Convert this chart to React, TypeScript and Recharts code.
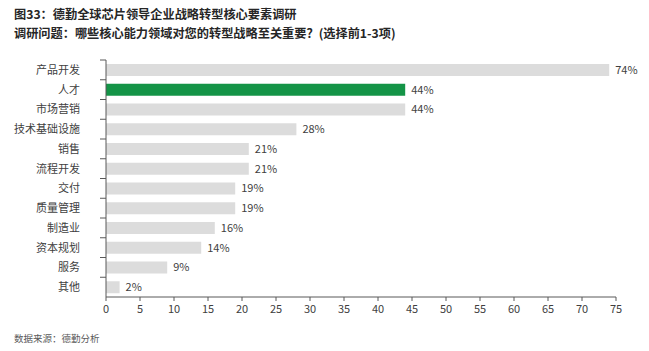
import { BarChart, Bar, XAxis, YAxis, Cell, LabelList } from 'recharts';

const categories = ['产品开发', '人才', '市场营销', '技术基础设施', '销售', '流程开发', '交付', '质量管理', '制造业', '资本规划', '服务', '其他'];
const values = [74, 44, 44, 28, 21, 21, 19, 19, 16, 14, 9, 2];
const highlight = '人才';
const xTicks = [0, 5, 10, 15, 20, 25, 30, 35, 40, 45, 50, 55, 60, 65, 70, 75];

const FONT = '"Noto Sans CJK SC", "Noto Sans", sans-serif';
const TOP = 60;
const PLOT_H = 237;
const BAND = PLOT_H / categories.length;

function CategoryTick(props: any) {
  const { x, y, payload } = props;
  const top = y - BAND / 2;
  return (
    <g>
      <line x1={x + 20} x2={x + 26} y1={top} y2={top} stroke="#595959" strokeWidth={1} />
      <text x={x} y={y} dy={4} textAnchor="end" fontSize={11} fill="#404040" fontFamily={FONT}>
        {payload.value}
      </text>
    </g>
  );
}

export default function App() {
  const data = categories.map((name, i) => ({ name, value: values[i] }));

  return (
    <div style={{ position: 'absolute', left: 0, top: 0, width: 649, height: 351, background: '#fff', fontFamily: FONT }}>
      <div style={{ position: 'absolute', left: 14, top: 5, fontSize: 12.2, fontWeight: 700, color: '#262626', lineHeight: '19px' }}>
        <div>图33：德勤全球芯片领导企业战略转型核心要素调研</div>
        <div>调研问题：哪些核心能力领域对您的转型战略至关重要？(选择前1-3项)</div>
      </div>
      <BarChart
        width={649}
        height={351}
        data={data}
        layout="vertical"
        margin={{ top: TOP, right: 33, bottom: 30, left: 6 }}
        barCategoryGap={4}
      >
        <XAxis
          type="number"
          domain={[0, 75]}
          ticks={xTicks}
          height={24}
          tickSize={4}
          tickMargin={4}
          axisLine={{ stroke: '#595959' }}
          tickLine={{ stroke: '#595959' }}
          tick={{ fontSize: 11, fill: '#404040', fontFamily: FONT }}
          interval={0}
        />
        <YAxis
          type="category"
          dataKey="name"
          width={100}
          tickSize={4}
          tickMargin={22}
          tickLine={false}
          axisLine={{ stroke: '#595959' }}
          tick={<CategoryTick />}
          interval={0}
        />
        <Bar dataKey="value" barSize={12} isAnimationActive={false}>
          {data.map((d) => (
            <Cell key={d.name} fill={d.name === highlight ? '#149447' : '#dcdcdc'} />
          ))}
          <LabelList
            dataKey="value"
            position="right"
            offset={6}
            formatter={(v: any) => `${v}%`}
            style={{ fontSize: 11, fill: '#404040', fontFamily: FONT }}
          />
        </Bar>
      </BarChart>
      <div style={{ position: 'absolute', left: 14, top: 331, fontSize: 9.5, color: '#595959' }}>数据来源：德勤分析</div>
    </div>
  );
}
